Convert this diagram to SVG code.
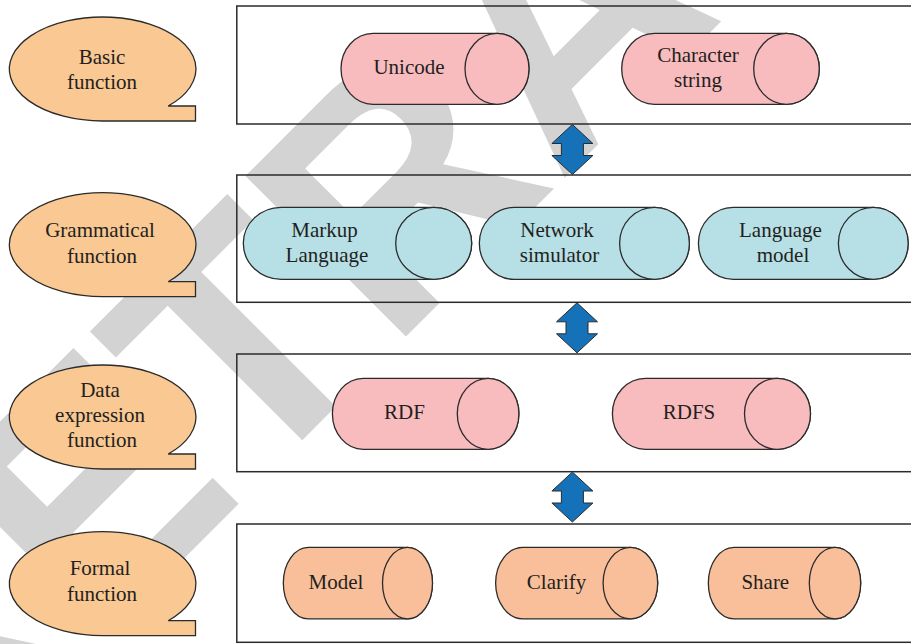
<svg xmlns="http://www.w3.org/2000/svg" width="911" height="644" viewBox="0 0 911 644">
  <style>
    .wm { font-family: "Liberation Sans", Arial, sans-serif; font-weight: bold; font-size: 330px; fill: #d3d3d3; }
    .layer { fill: none; stroke: #2b2b2b; stroke-width: 1.5; }
    .bubble { fill: #f9c893; stroke: #2b2b2b; stroke-width: 1.3; }
    .cyl { stroke: #2b2b2b; stroke-width: 1.3; }
    .pink { fill: #f8bbbe; }
    .blue { fill: #b7e0e6; }
    .orange { fill: #f9bf9a; }
    .arrow { fill: #1672b8; stroke: #2b2b2b; stroke-width: 1; }
    .lbl { font-family: "Liberation Serif", "DejaVu Serif", "Times New Roman", serif; font-size: 21px; fill: #231f20; text-anchor: middle; }
  </style>
  <defs>
    <!-- speech bubble: ellipse with a square tail at the lower right -->
    <path id="bubbleShape" d="M 168.2,-15 L 195.5,-15 L 195.5,0 L 102.7,0 A 93.3 52 0 1 1 168.2,-15 Z"/>
    <!-- double-headed block arrow, tip at origin pointing up, 50 tall -->
    <path id="dblArrow" d="M 0,0 L 20.5,19 L 11,19 L 11,31 L 20.5,31 L 0,50 L -20.5,31 L -11,31 L -11,19 L -20.5,19 Z"/>
  </defs>

  <!-- background watermark -->
  <text class="wm" transform="rotate(-45)" x="-633" y="525">RETRACTED</text>

  <!-- layer frames -->
  <g id="layers">
    <rect class="layer" x="236.8" y="6" width="680" height="118"/>
    <rect class="layer" x="236.8" y="175" width="680" height="127.3"/>
    <rect class="layer" x="236.8" y="354" width="680" height="117.7"/>
    <rect class="layer" x="236.8" y="524" width="680" height="118.3"/>
  </g>

  <g font-family="Liberation Serif, DejaVu Serif, serif">
  <!-- layer captions -->
  <g id="basic-function">
    <use href="#bubbleShape" class="bubble" transform="translate(0,121)"/>
    <text class="lbl" x="102" y="64">Basic</text>
    <text class="lbl" x="102" y="89.3">function</text>
  </g>
  <g id="grammatical-function">
    <use href="#bubbleShape" class="bubble" transform="translate(0,296.7)"/>
    <text class="lbl" x="100" y="237.3">Grammatical</text>
    <text class="lbl" x="102" y="263.3">function</text>
  </g>
  <g id="data-expression-function">
    <use href="#bubbleShape" class="bubble" transform="translate(0,469)"/>
    <text class="lbl" x="100" y="396.7">Data</text>
    <text class="lbl" x="100" y="422">expression</text>
    <text class="lbl" x="102" y="447.3">function</text>
  </g>
  <g id="formal-function">
    <use href="#bubbleShape" class="bubble" transform="translate(0,635.7)"/>
    <text class="lbl" x="100" y="575">Formal</text>
    <text class="lbl" x="102" y="601">function</text>
  </g>

  <!-- basic layer -->
  <g id="unicode">
    <path class="cyl pink" d="M 373,33.3 L 497,33.3 A 32 35.5 0 0 1 497,104.3 L 373,104.3 A 32 35.5 0 0 1 373,33.3 Z"/>
    <ellipse class="cyl pink" cx="497" cy="68.8" rx="32" ry="35.5"/>
    <text class="lbl" x="409" y="74">Unicode</text>
  </g>
  <g id="character-string">
    <path class="cyl pink" d="M 654.5,33.3 L 786.5,33.3 A 32.8 35.5 0 0 1 786.5,104.3 L 654.5,104.3 A 32.8 35.5 0 0 1 654.5,33.3 Z"/>
    <ellipse class="cyl pink" cx="786.5" cy="68.8" rx="32.8" ry="35.5"/>
    <text class="lbl" x="698" y="61.7">Character</text>
    <text class="lbl" x="698" y="87.3">string</text>
  </g>

  <!-- grammatical layer -->
  <g id="markup-language">
    <path class="cyl blue" d="M 281.3,207.3 L 433.7,207.3 A 38 36 0 0 1 433.7,279.3 L 281.3,279.3 A 38 36 0 0 1 281.3,207.3 Z"/>
    <ellipse class="cyl blue" cx="433.7" cy="243.3" rx="38" ry="36"/>
    <text class="lbl" x="324.5" y="237.3">Markup</text>
    <text class="lbl" x="327" y="261.7">Language</text>
  </g>
  <g id="network-simulator">
    <path class="cyl blue" d="M 514.2,207.3 L 654.5,207.3 A 34.9 36 0 0 1 654.5,279.3 L 514.2,279.3 A 34.9 36 0 0 1 514.2,207.3 Z"/>
    <ellipse class="cyl blue" cx="654.5" cy="243.3" rx="34.9" ry="36"/>
    <text class="lbl" x="557" y="237.3">Network</text>
    <text class="lbl" x="559.5" y="261.7">simulator</text>
  </g>
  <g id="language-model">
    <path class="cyl blue" d="M 733.3,207.3 L 873.3,207.3 A 34.9 36 0 0 1 873.3,279.3 L 733.3,279.3 A 34.9 36 0 0 1 733.3,207.3 Z"/>
    <ellipse class="cyl blue" cx="873.3" cy="243.3" rx="34.9" ry="36"/>
    <text class="lbl" x="780.4" y="237.3">Language</text>
    <text class="lbl" x="783" y="261.7">model</text>
  </g>

  <!-- data expression layer -->
  <g id="rdf">
    <path class="cyl pink" d="M 363.2,378.3 L 488.1,378.3 A 30.8 35.5 0 0 1 488.1,449.3 L 363.2,449.3 A 30.8 35.5 0 0 1 363.2,378.3 Z"/>
    <ellipse class="cyl pink" cx="488.1" cy="413.8" rx="30.8" ry="35.5"/>
    <text class="lbl" x="404.5" y="419.3">RDF</text>
  </g>
  <g id="rdfs">
    <path class="cyl pink" d="M 645.4,378.3 L 777.5,378.3 A 33 35.5 0 0 1 777.5,449.3 L 645.4,449.3 A 33 35.5 0 0 1 645.4,378.3 Z"/>
    <ellipse class="cyl pink" cx="777.5" cy="413.8" rx="33" ry="35.5"/>
    <text class="lbl" x="689" y="419.3">RDFS</text>
  </g>

  <!-- formal layer -->
  <g id="model">
    <path class="cyl orange" d="M 308.3,547.3 L 407.5,547.3 A 25 35.8 0 0 1 407.5,618.9 L 308.3,618.9 A 25 35.8 0 0 1 308.3,547.3 Z"/>
    <ellipse class="cyl orange" cx="407.5" cy="583.1" rx="25" ry="35.8"/>
    <text class="lbl" x="336" y="588.5">Model</text>
  </g>
  <g id="clarify">
    <path class="cyl orange" d="M 522.9,547.3 L 630.4,547.3 A 27.3 35.8 0 0 1 630.4,618.9 L 522.9,618.9 A 27.3 35.8 0 0 1 522.9,547.3 Z"/>
    <ellipse class="cyl orange" cx="630.4" cy="583.1" rx="27.3" ry="35.8"/>
    <text class="lbl" x="556.6" y="588.5">Clarify</text>
  </g>
  <g id="share">
    <path class="cyl orange" d="M 734,547.3 L 835,547.3 A 25.7 35.8 0 0 1 835,618.9 L 734,618.9 A 25.7 35.8 0 0 1 734,547.3 Z"/>
    <ellipse class="cyl orange" cx="835" cy="583.1" rx="25.7" ry="35.8"/>
    <text class="lbl" x="765.3" y="589">Share</text>
  </g>
  </g>

  <!-- connectors between layers -->
  <g id="connectors">
    <use href="#dblArrow" class="arrow" transform="translate(572.4,124.5)"/>
    <use href="#dblArrow" class="arrow" transform="translate(577,302.8)"/>
    <use href="#dblArrow" class="arrow" transform="translate(572.4,472)"/>
  </g>
</svg>
